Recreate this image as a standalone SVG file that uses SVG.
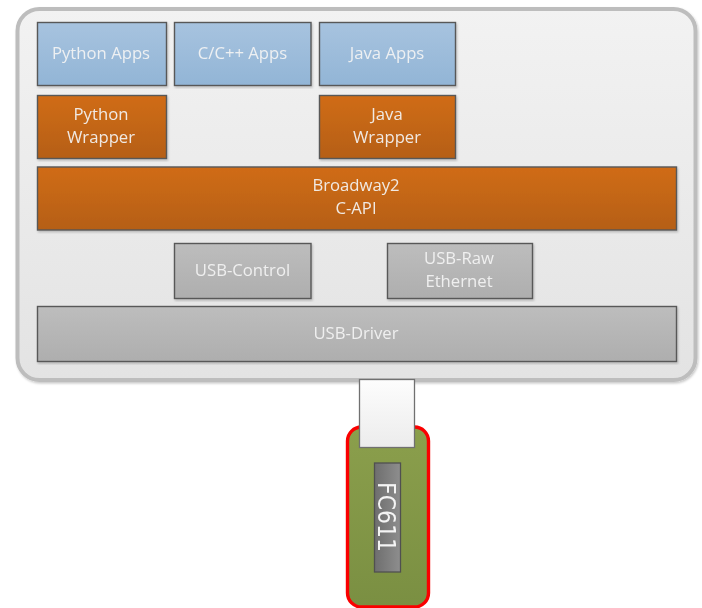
<svg xmlns="http://www.w3.org/2000/svg" width="702" height="608" viewBox="0 0 702 608">
<defs>
<linearGradient id="gPanel" x1="0" y1="0" x2="0" y2="1"><stop offset="0" stop-color="#f2f2f2"/><stop offset="1" stop-color="#e3e3e3"/></linearGradient>
<linearGradient id="gBlue" x1="0" y1="0" x2="0" y2="1"><stop offset="0" stop-color="#a7c3df"/><stop offset="1" stop-color="#92b5d6"/></linearGradient>
<linearGradient id="gOrange" x1="0" y1="0" x2="0" y2="1"><stop offset="0" stop-color="#d06c18"/><stop offset="1" stop-color="#b55f14"/></linearGradient>
<linearGradient id="gGray" x1="0" y1="0" x2="0" y2="1"><stop offset="0" stop-color="#bdbdbd"/><stop offset="1" stop-color="#aeaeae"/></linearGradient>
<linearGradient id="gGreen" x1="0" y1="0" x2="0" y2="1"><stop offset="0" stop-color="#8b9f4c"/><stop offset="1" stop-color="#7a8f42"/></linearGradient>
<linearGradient id="gWhite" x1="0" y1="0" x2="0" y2="1"><stop offset="0" stop-color="#fdfdfd"/><stop offset="1" stop-color="#ececec"/></linearGradient>
<linearGradient id="gChip" x1="0" y1="0" x2="1" y2="0"><stop offset="0" stop-color="#6e6e6e"/><stop offset="1" stop-color="#8e8e8e"/></linearGradient>
<filter id="soft" x="-10%" y="-30%" width="120%" height="160%"><feGaussianBlur stdDeviation="0.35"/></filter>
<filter id="shade" x="-5%" y="-5%" width="110%" height="110%"><feDropShadow dx="1" dy="1.500" stdDeviation="1" flood-color="#000" flood-opacity=".22"/></filter>
</defs>
<style>
.box{stroke:#585858;stroke-width:1.4;filter:url(#shade)}
.blue{fill:url(#gBlue)}
.orange{fill:url(#gOrange)}
.gray{fill:url(#gGray)}
text{font-family:"Open Sans","Noto Sans","Liberation Sans",sans-serif;font-size:16.700px;fill:#f4f4f4;text-anchor:middle;fill-opacity:.92;filter:url(#soft)}
</style>
<g id="host"><rect x="17.500" y="9" width="678" height="371" rx="22" ry="22" fill="url(#gPanel)" stroke="#bdbdbd" stroke-width="4" filter="url(#shade)"/></g>
<g id="python-apps"><rect class="box blue" x="37.500" y="22.500" width="129" height="63"/><text x="101" y="59">Python Apps</text></g>
<g id="cpp-apps"><rect class="box blue" x="174.500" y="22.500" width="136.500" height="63"/><text x="242.500" y="59">C/C++ Apps</text></g>
<g id="java-apps"><rect class="box blue" x="319.500" y="22.500" width="136" height="63"/><text x="387" y="59">Java Apps</text></g>
<g id="python-wrapper"><rect class="box orange" x="37.500" y="95.500" width="129" height="63"/><text x="101" y="120">Python</text><text x="101" y="143">Wrapper</text></g>
<g id="java-wrapper"><rect class="box orange" x="319.500" y="95.500" width="136" height="63"/><text x="387" y="120">Java</text><text x="387" y="143">Wrapper</text></g>
<g id="c-api"><rect class="box orange" x="37.500" y="167" width="639" height="63"/><text x="356" y="191">Broadway2</text><text x="356" y="214">C-API</text></g>
<g id="usb-control"><rect class="box gray" x="174.500" y="243.500" width="136.500" height="55"/><text x="242.500" y="276">USB-Control</text></g>
<g id="usb-raw"><rect class="box gray" x="387.500" y="243.500" width="145" height="55"/><text x="459" y="264">USB-Raw</text><text x="459" y="287">Ethernet</text></g>
<g id="usb-driver"><rect class="box gray" x="37.500" y="306.500" width="639" height="55"/><text x="356" y="339">USB-Driver</text></g>
<g id="fc611">
<rect x="347.500" y="427" width="81" height="180" rx="14" ry="14" fill="url(#gGreen)" stroke="#fa0000" stroke-width="3.400"/>
<rect x="359.500" y="379.500" width="55" height="68" fill="url(#gWhite)" stroke="#707070" stroke-width="1.300"/>
<rect x="374.500" y="463" width="26" height="109" fill="url(#gChip)" stroke="#505050" stroke-width="1.300"/>
<text transform="translate(378 517) rotate(90) scale(1 1.150)" style="font-family:'DejaVu Sans',sans-serif;font-size:22px;fill-opacity:1">FC611</text>
</g>
<g id="connectors"/>
</svg>
